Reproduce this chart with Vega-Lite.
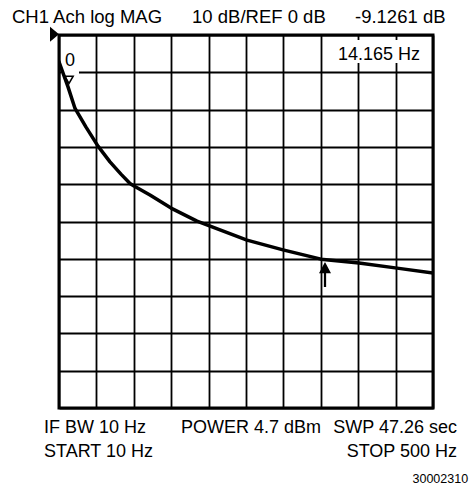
{
  "$schema": "https://vega.github.io/schema/vega-lite/v6.json",
  "width": 374,
  "height": 373,
  "autosize": "none",
  "padding": {"left": 59, "top": 35, "right": 43, "bottom": 82},
  "background": "white",
  "data": {"values": [{}]},
  "config": {
    "view": {"stroke": "black", "strokeWidth": 3},
    "font": "Liberation Sans",
    "axis": {"titleOpacity": 0, "labels": false, "ticks": false, "domain": false, "grid": true, "gridColor": "black", "gridWidth": 1.8, "gridOpacity": 1}
  },
  "datasets": {
    "trace": [
      {"freq": 10, "dB": 2.8},
      {"freq": 21.8, "dB": -3.9},
      {"freq": 31, "dB": -9.7},
      {"freq": 45.4, "dB": -14.7},
      {"freq": 61.1, "dB": -19.8},
      {"freq": 76.8, "dB": -24.0},
      {"freq": 91.2, "dB": -27.3},
      {"freq": 103, "dB": -29.8},
      {"freq": 108.3, "dB": -30.5},
      {"freq": 129.2, "dB": -32.9},
      {"freq": 156.8, "dB": -36.4},
      {"freq": 190.8, "dB": -39.9},
      {"freq": 256.3, "dB": -45.0},
      {"freq": 303.5, "dB": -47.6},
      {"freq": 353.2, "dB": -50.1},
      {"freq": 403, "dB": -51.1},
      {"freq": 452.9, "dB": -52.5},
      {"freq": 500, "dB": -53.8}
    ]
  },
  "layer": [
    {
      "data": {"name": "trace"},
      "mark": {"type": "line", "color": "black", "strokeWidth": 3.5, "opacity": 0, "clip": true},
      "encoding": {
        "x": {"field": "freq", "type": "quantitative", "scale": {"domain": [10, 500], "nice": false, "zero": false},
          "axis": {"values": [10, 59, 108, 157, 206, 255, 304, 353, 402, 451, 500], "title": null, "labelOverlap": false, "tickCount": 30}},
        "y": {"field": "dB", "type": "quantitative", "scale": {"domain": [-90, 10], "nice": false, "zero": false},
          "axis": {"values": [-90, -80, -70, -60, -50, -40, -30, -20, -10, 0, 10], "title": null, "labelOverlap": false, "tickCount": 30}}
      }
    },
    {
      "mark": {"type": "rect", "fill": "white"},
      "encoding": {
        "x": {"datum": 12.6, "type": "quantitative"},
        "x2": {"datum": 36.2},
        "y": {"datum": 5.98, "type": "quantitative"},
        "y2": {"datum": -2.06}
      }
    },
    {
      "mark": {"type": "rect", "fill": "white"},
      "encoding": {
        "x": {"datum": 365, "type": "quantitative"},
        "x2": {"datum": 489.5},
        "y": {"datum": 8.66, "type": "quantitative"},
        "y2": {"datum": 2.5}
      }
    },
    {
      "data": {"name": "trace"},
      "mark": {"type": "line", "color": "black", "strokeWidth": 3.5, "strokeCap": "round", "strokeJoin": "round", "clip": true},
      "encoding": {
        "x": {"field": "freq", "type": "quantitative"},
        "y": {"field": "dB", "type": "quantitative"}
      }
    },
    {
      "mark": {"type": "point", "shape": "triangle-down", "filled": false, "color": "black", "strokeWidth": 1.5, "size": 70, "opacity": 1},
      "encoding": {"x": {"datum": 23.1, "type": "quantitative"}, "y": {"datum": -2.0, "type": "quantitative"}}
    },
    {
      "mark": {"type": "point", "shape": "M0,-1L0.48,-0.1L0.09,-0.1L0.09,1L-0.09,1L-0.09,-0.1L-0.48,-0.1Z", "filled": true, "color": "black", "strokeWidth": 0, "size": 625, "opacity": 1},
      "encoding": {"x": {"datum": 358.5, "type": "quantitative"}, "y": {"datum": -54.2, "type": "quantitative"}}
    },
    {
      "mark": {"type": "point", "shape": "M-0.6,-1L0.6,0L-0.6,1Z", "filled": true, "color": "black", "strokeWidth": 0, "size": 225, "opacity": 1},
      "encoding": {"x": {"datum": 4.1, "type": "quantitative"}, "y": {"datum": 10.2, "type": "quantitative"}}
    },
    {
      "mark": {"type": "text", "text": "0", "align": "left", "baseline": "alphabetic", "fontSize": 18, "color": "black"},
      "encoding": {"x": {"datum": 17.9, "type": "quantitative"}, "y": {"datum": 1.69, "type": "quantitative"}}
    },
    {
      "mark": {"type": "text", "text": "14.165 Hz", "align": "right", "baseline": "alphabetic", "fontSize": 18, "color": "black"},
      "encoding": {"x": {"datum": 483, "type": "quantitative"}, "y": {"datum": 3.3, "type": "quantitative"}}
    },
    {
      "mark": {"type": "text", "text": "CH1 Ach log MAG", "align": "left", "baseline": "alphabetic", "fontSize": 18.5, "color": "black"},
      "encoding": {"x": {"datum": -51.6, "type": "quantitative"}, "y": {"datum": 13.35, "type": "quantitative"}}
    },
    {
      "mark": {"type": "text", "text": "10 dB/REF 0 dB", "align": "left", "baseline": "alphabetic", "fontSize": 18.5, "color": "black"},
      "encoding": {"x": {"datum": 184.3, "type": "quantitative"}, "y": {"datum": 13.35, "type": "quantitative"}}
    },
    {
      "mark": {"type": "text", "text": "-9.1261 dB", "align": "left", "baseline": "alphabetic", "fontSize": 18.5, "color": "black"},
      "encoding": {"x": {"datum": 397.8, "type": "quantitative"}, "y": {"datum": 13.35, "type": "quantitative"}}
    },
    {
      "mark": {"type": "text", "text": "IF BW 10 Hz", "align": "left", "baseline": "alphabetic", "fontSize": 18, "color": "black"},
      "encoding": {"x": {"datum": -9.65, "type": "quantitative"}, "y": {"datum": -96.7, "type": "quantitative"}}
    },
    {
      "mark": {"type": "text", "text": "POWER 4.7 dBm", "align": "left", "baseline": "alphabetic", "fontSize": 18, "color": "black"},
      "encoding": {"x": {"datum": 169.8, "type": "quantitative"}, "y": {"datum": -96.7, "type": "quantitative"}}
    },
    {
      "mark": {"type": "text", "text": "SWP 47.26 sec", "align": "right", "baseline": "alphabetic", "fontSize": 18, "color": "black"},
      "encoding": {"x": {"datum": 531.5, "type": "quantitative"}, "y": {"datum": -96.7, "type": "quantitative"}}
    },
    {
      "mark": {"type": "text", "text": "START 10 Hz", "align": "left", "baseline": "alphabetic", "fontSize": 18, "color": "black"},
      "encoding": {"x": {"datum": -9.65, "type": "quantitative"}, "y": {"datum": -103.1, "type": "quantitative"}}
    },
    {
      "mark": {"type": "text", "text": "STOP 500 Hz", "align": "right", "baseline": "alphabetic", "fontSize": 18, "color": "black"},
      "encoding": {"x": {"datum": 531.5, "type": "quantitative"}, "y": {"datum": -103.1, "type": "quantitative"}}
    },
    {
      "mark": {"type": "text", "text": "30002310", "align": "right", "baseline": "alphabetic", "fontSize": 12.5, "color": "black"},
      "encoding": {"x": {"datum": 546, "type": "quantitative"}, "y": {"datum": -110.1, "type": "quantitative"}}
    }
  ]
}
